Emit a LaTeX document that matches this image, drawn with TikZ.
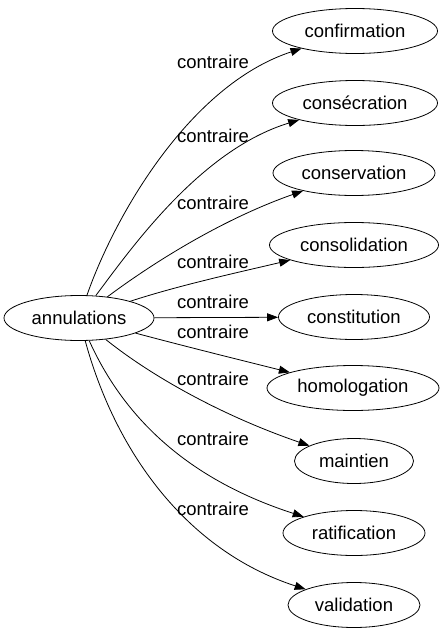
\documentclass[tikz,border=0pt]{standalone}
\usepackage{fontspec}
\setmainfont{Liberation Sans}
\usetikzlibrary{arrows.meta,shapes.geometric}

\begin{document}
\begin{tikzpicture}[x=1pt,y=-1pt,
  % Node Styles
  wnode/.style={ellipse, draw, line width=0.8pt, minimum height=45pt, inner sep=2pt, font=\fontsize{18.5}{20}\selectfont},
  rlabel/.style={inner sep=0pt, font=\fontsize{18.5}{20}\selectfont},
  % Arrow Styles
  relarrow/.style={-{Triangle[length=11pt,width=8pt]}, line width=0.8pt}
]
\useasboundingbox (0,0) rectangle (446,635);

% Diagram for: annulations

\node[wnode, minimum width=150pt] (annulations) at (79,318) {annulations};
\node[wnode, minimum width=165pt] (confirmation) at (355,31) {confirmation};
\node[wnode, minimum width=165pt] (consecration) at (355,103) {consécration};
\node[wnode, minimum width=162pt] (conservation) at (354,173) {conservation};
\node[wnode, minimum width=169pt] (consolidation) at (354,245) {consolidation};
\node[wnode, minimum width=151pt] (constitution) at (354,317) {constitution};
\node[wnode, minimum width=172pt] (homologation) at (353,388) {homologation};
\node[wnode, minimum width=119pt] (maintien) at (354,461) {maintien};
\node[wnode, minimum width=142pt] (ratification) at (354,533) {ratification};
\node[wnode, minimum width=132pt] (validation) at (354,605) {validation};

\node[rlabel] (L_1) at (213,62) {contraire};
\node[rlabel] (L_2) at (213,136) {contraire};
\node[rlabel] (L_3) at (213,203) {contraire};
\node[rlabel] (L_4) at (213,262) {contraire};
\node[rlabel] (L_5) at (213,302) {contraire};
\node[rlabel] (L_6) at (213,332) {contraire};
\node[rlabel] (L_7) at (213,379) {contraire};
\node[rlabel] (L_8) at (213,439) {contraire};
\node[rlabel] (L_9) at (213,509) {contraire};

\draw[relarrow] (annulations) .. controls (115,215) and (190,85) .. (confirmation);
\draw[relarrow] (annulations) .. controls (130,250) and (200,150) .. (consecration);
\draw[relarrow] (annulations) .. controls (150,265) and (220,220) .. (conservation);
\draw[relarrow] (annulations) .. controls (180,285) and (240,272) .. (consolidation);
\draw[relarrow] (annulations) -- (constitution);
\draw[relarrow] (annulations) .. controls (180,345) and (240,360) .. (homologation);
\draw[relarrow] (annulations) .. controls (150,375) and (220,415) .. (maintien);
\draw[relarrow] (annulations) .. controls (125,420) and (190,480) .. (ratification);
\draw[relarrow] (annulations) .. controls (115,450) and (185,550) .. (validation);

\end{tikzpicture}
\end{document}
